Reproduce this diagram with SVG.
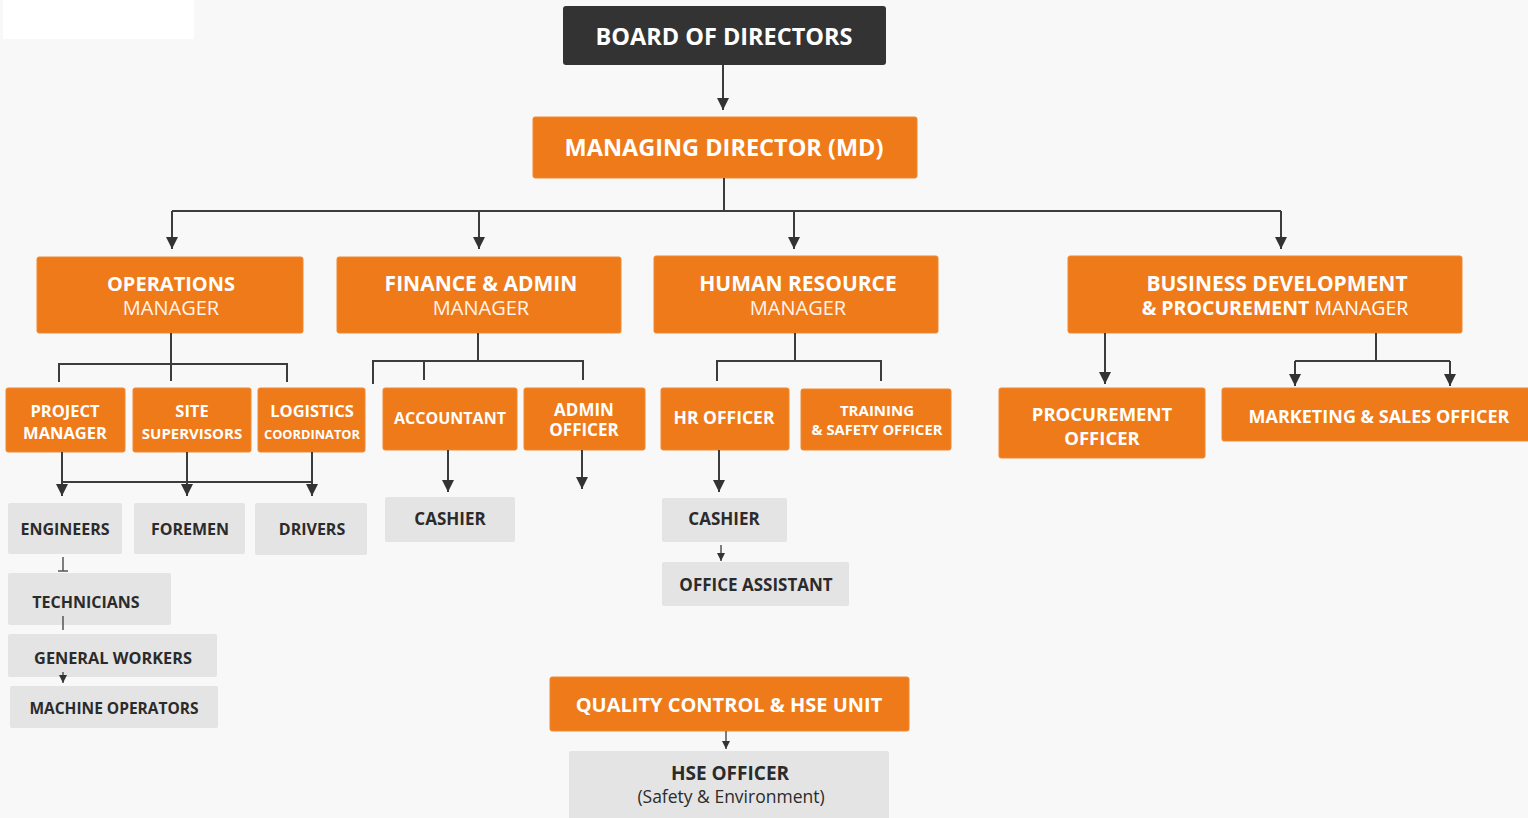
<svg xmlns="http://www.w3.org/2000/svg" width="1528" height="818" viewBox="0 0 1528 818">
<style>
.bg{fill:#f8f8f8}
.org{fill:#ef7a19;stroke:#f08a35;stroke-width:1}
.gry{fill:#e4e4e4}
.dark{fill:#333333}
text{font-family:"Open Sans","Liberation Sans",sans-serif;text-anchor:middle}
.wb{fill:#ffffff;font-weight:700}
.wr{fill:#fff4ea;font-weight:400}
.db{fill:#2b2b2b;font-weight:700}
.dr{fill:#2b2b2b;font-weight:400}
.ln{fill:none;stroke:#3c3c3c;stroke-width:2}
.lnt{fill:none;stroke:#555555;stroke-width:1.5}
</style>
<defs>
<marker id="ah" viewBox="0 0 10 10" refX="10" refY="5" markerWidth="12" markerHeight="12" markerUnits="userSpaceOnUse" orient="auto">
<path d="M0,0 L10,5 L0,10 z" fill="#333333"/>
</marker>
<marker id="ahs" viewBox="0 0 10 10" refX="10" refY="5" markerWidth="8" markerHeight="8" markerUnits="userSpaceOnUse" orient="auto">
<path d="M0,0 L10,5 L0,10 z" fill="#333333"/>
</marker>
</defs>
<rect class="bg" x="0" y="0" width="1528" height="818"/>
<rect x="3" y="0" width="191" height="39" fill="#ffffff"/>

<g id="board">
<rect class="dark" x="563" y="6" width="323" height="59" rx="3"/>
<text class="wb" x="724" y="45" font-size="23.5">BOARD OF DIRECTORS</text>
</g>
<g id="md">
<rect class="org" x="533" y="117" width="384" height="61" rx="2"/>
<text class="wb" x="724" y="156" font-size="23.5">MANAGING DIRECTOR (MD)</text>
</g>

<g id="ops-manager">
<rect class="org" x="37" y="257" width="266" height="76" rx="2"/>
<text class="wb" x="171" y="291" font-size="20">OPERATIONS</text>
<text class="wr" x="171" y="315" font-size="20">MANAGER</text>
</g>
<g id="finance-manager">
<rect class="org" x="337" y="257" width="284" height="76" rx="2"/>
<text class="wb" x="481" y="291" font-size="21">FINANCE &amp; ADMIN</text>
<text class="wr" x="481" y="315" font-size="20">MANAGER</text>
</g>
<g id="hr-manager">
<rect class="org" x="654" y="256" width="284" height="77" rx="2"/>
<text class="wb" x="798" y="291" font-size="21">HUMAN RESOURCE</text>
<text class="wr" x="798" y="315" font-size="20">MANAGER</text>
</g>
<g id="bd-manager">
<rect class="org" x="1068" y="256" width="394" height="77" rx="2"/>
<text class="wb" x="1277" y="291" font-size="21">BUSINESS DEVELOPMENT</text>
<text class="wb" x="1275" y="315" font-size="19.5">&amp; PROCUREMENT <tspan font-weight="400">MANAGER</tspan></text>
</g>

<g id="project-manager">
<rect class="org" x="6" y="388" width="119" height="64" rx="2"/>
<text class="wb" x="65" y="417" font-size="16.5">PROJECT</text>
<text class="wb" x="65" y="439" font-size="16.5">MANAGER</text>
</g>
<g id="site-supervisors">
<rect class="org" x="133" y="388" width="118" height="64" rx="2"/>
<text class="wb" x="192" y="417" font-size="16.5">SITE</text>
<text class="wb" x="192" y="439" font-size="15">SUPERVISORS</text>
</g>
<g id="logistics">
<rect class="org" x="258" y="388" width="107" height="64" rx="2"/>
<text class="wb" x="312" y="417" font-size="16.5">LOGISTICS</text>
<text class="wb" x="312" y="439" font-size="12.8">COORDINATOR</text>
</g>

<g id="engineers">
<rect class="gry" x="8" y="503" width="114" height="51" rx="2"/>
<text class="db" x="65" y="535" font-size="16">ENGINEERS</text>
</g>
<g id="foremen">
<rect class="gry" x="134" y="503" width="111" height="51" rx="2"/>
<text class="db" x="190" y="535" font-size="16">FOREMEN</text>
</g>
<g id="drivers">
<rect class="gry" x="255" y="503" width="112" height="52" rx="2"/>
<text class="db" x="312" y="535" font-size="16">DRIVERS</text>
</g>
<g id="technicians">
<rect class="gry" x="8" y="573" width="163" height="52" rx="2"/>
<text class="db" x="86" y="608" font-size="16">TECHNICIANS</text>
</g>
<g id="general-workers">
<rect class="gry" x="8" y="634" width="209" height="43" rx="2"/>
<text class="db" x="113" y="664" font-size="16.3">GENERAL WORKERS</text>
</g>
<g id="machine-operators">
<rect class="gry" x="10" y="686" width="208" height="42" rx="2"/>
<text class="db" x="114" y="714" font-size="15.5">MACHINE OPERATORS</text>
</g>

<g id="accountant">
<rect class="org" x="383" y="388" width="134" height="62" rx="2"/>
<text class="wb" x="450" y="424" font-size="16">ACCOUNTANT</text>
</g>
<g id="admin-officer">
<rect class="org" x="524" y="388" width="121" height="62" rx="2"/>
<text class="wb" x="584" y="416" font-size="17">ADMIN</text>
<text class="wb" x="584" y="436" font-size="17">OFFICER</text>
</g>
<g id="cashier-fin">
<rect class="gry" x="385" y="497" width="130" height="45" rx="2"/>
<text class="db" x="450" y="525" font-size="17">CASHIER</text>
</g>

<g id="hr-officer">
<rect class="org" x="661" y="388" width="128" height="62" rx="2"/>
<text class="wb" x="724" y="424" font-size="17.5">HR OFFICER</text>
</g>
<g id="training-officer">
<rect class="org" x="801" y="389" width="150" height="61" rx="2"/>
<text class="wb" x="877" y="416" font-size="15">TRAINING</text>
<text class="wb" x="877" y="435" font-size="14.7">&amp; SAFETY OFFICER</text>
</g>
<g id="cashier-hr">
<rect class="gry" x="662" y="498" width="125" height="44" rx="2"/>
<text class="db" x="724" y="525" font-size="17">CASHIER</text>
</g>
<g id="office-assistant">
<rect class="gry" x="662" y="562" width="187" height="44" rx="2"/>
<text class="db" x="756" y="591" font-size="17">OFFICE ASSISTANT</text>
</g>

<g id="procurement-officer">
<rect class="org" x="999" y="388" width="206" height="70" rx="2"/>
<text class="wb" x="1102" y="421" font-size="18.5">PROCUREMENT</text>
<text class="wb" x="1102" y="445" font-size="18.5">OFFICER</text>
</g>
<g id="marketing-officer">
<rect class="org" x="1222" y="388" width="310" height="53" rx="2"/>
<text class="wb" x="1379" y="423" font-size="18">MARKETING &amp; SALES OFFICER</text>
</g>

<g id="qc-unit">
<rect class="org" x="550" y="677" width="359" height="54" rx="2"/>
<text class="wb" x="729" y="712" font-size="20">QUALITY CONTROL &amp; HSE UNIT</text>
</g>
<g id="hse-officer">
<rect class="gry" x="569" y="751" width="320" height="70" rx="2"/>
<text class="db" x="730" y="780" font-size="19">HSE OFFICER</text>
<text class="dr" x="731" y="803" font-size="17.5">(Safety &amp; Environment)</text>
</g>

<g id="connectors">
<path class="ln" d="M723,65 V110" marker-end="url(#ah)"/>
<path class="ln" d="M724,178 V211 M172,211 H1281"/>
<path class="ln" d="M172,211 V249" marker-end="url(#ah)"/>
<path class="ln" d="M479,211 V249" marker-end="url(#ah)"/>
<path class="ln" d="M794,211 V249" marker-end="url(#ah)"/>
<path class="ln" d="M1281,211 V249" marker-end="url(#ah)"/>
<path class="ln" d="M171,333 V381 M59,382 V364 H287 V382"/>
<path class="ln" d="M62,452 V496" marker-end="url(#ah)"/>
<path class="ln" d="M187,452 V496" marker-end="url(#ah)"/>
<path class="ln" d="M312,452 V496" marker-end="url(#ah)"/>
<path class="ln" d="M62,482 H312"/>
<path class="lnt" d="M63,557 V571 M58,571 H68"/>
<path class="lnt" d="M63,616 V630"/>
<path class="lnt" d="M63,672 V683" marker-end="url(#ahs)"/>
<path class="ln" d="M478,333 V361 M373,384 V361 H583 V380 M424,361 V380"/>
<path class="ln" d="M448,450 V492" marker-end="url(#ah)"/>
<path class="ln" d="M582,450 V489" marker-end="url(#ah)"/>
<path class="ln" d="M795,333 V361 M717,381 V361 H881 V381"/>
<path class="ln" d="M719,450 V492" marker-end="url(#ah)"/>
<path class="lnt" d="M721,545 V561" marker-end="url(#ahs)"/>
<path class="ln" d="M1105,333 V384" marker-end="url(#ah)"/>
<path class="ln" d="M1376,333 V361 M1295,361 H1450"/>
<path class="ln" d="M1295,361 V386" marker-end="url(#ah)"/>
<path class="ln" d="M1450,361 V386" marker-end="url(#ah)"/>
<path class="lnt" d="M726,731 V749" marker-end="url(#ahs)"/>
</g>
</svg>
